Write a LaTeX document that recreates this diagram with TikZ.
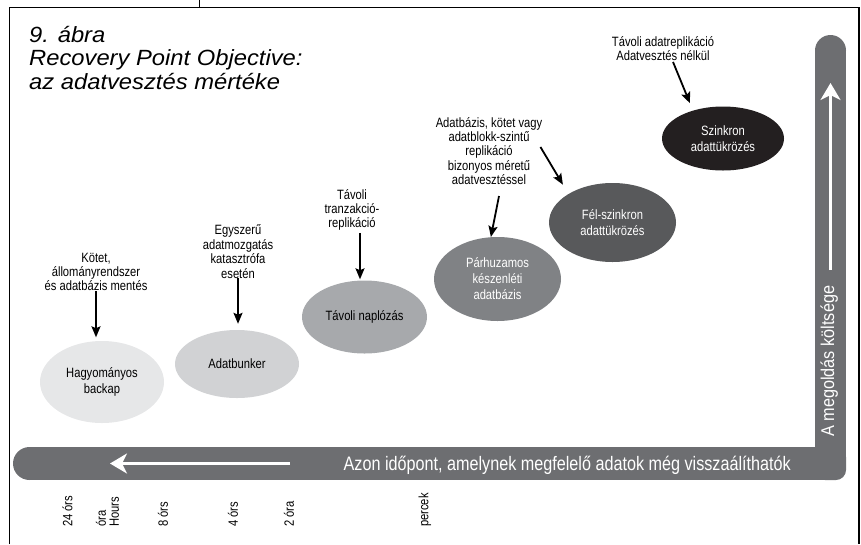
\documentclass[tikz,border=0pt]{standalone}
\usepackage{fontspec}
\setmainfont{Liberation Sans}
\newfontfamily\narrowfont[FakeStretch=0.83]{Liberation Sans}
\newfontfamily\barfont[FakeStretch=0.88]{Liberation Sans}
\newfontfamily\titlefont[FakeStretch=1.08]{Liberation Sans}
\usetikzlibrary{shapes.geometric,arrows.meta}

\definecolor{barGrey}{HTML}{6D6E71}
\definecolor{toneA}{HTML}{E6E7E8}
\definecolor{toneB}{HTML}{D1D2D4}
\definecolor{toneC}{HTML}{A7A9AC}
\definecolor{toneD}{HTML}{808285}
\definecolor{toneE}{HTML}{58595B}
\definecolor{toneF}{HTML}{231F20}

\begin{document}
\begin{tikzpicture}[x=1pt,y=-1pt,
  frame/.style={line width=1.3pt,black},
  bar/.style={fill=barGrey,draw=none},
  oval/.style={ellipse,draw=none,inner sep=0pt,align=center,
    font=\narrowfont\fontsize{13.5}{16}\selectfont},
  note/.style={align=center,inner sep=0pt,
    font=\narrowfont\fontsize{13.5}{14.4}\selectfont},
  link/.style={line width=1.8pt,black,-{Stealth[length=11pt,width=9pt,inset=2pt]}},
  whitearrow/.style={white,line width=3.5pt,-{Stealth[length=17pt,width=20pt,inset=5pt]}},
  tick/.style={rotate=90,anchor=west,align=left,inner sep=0pt,
    font=\narrowfont\fontsize{13.5}{13}\selectfont}]

\useasboundingbox (0,0) rectangle (861,544);

% page frame
\draw[frame] (9.5,544) -- (9.5,7.5) -- (859,7.5) -- (859,544);
\draw[frame] (199.5,0) -- (199.5,7.5);

% title (anchored on the baseline of its last line)
\node[anchor=base west,align=left,inner sep=0pt,
  font=\titlefont\itshape\fontsize{22}{23.6}\selectfont] (title) at (29,89.3)
  {9. ábra\\Recovery Point Objective:\\az adatvesztés mértéke};

% L-shaped axis bar
\fill[bar] (29.5,447) rectangle (830,480);
\fill[bar] (29.5,463.5) circle[radius=16.5];
\fill[bar] (815,50.5) rectangle (846,470);
\fill[bar] (830.5,50.5) circle[radius=15.5];
\fill[bar,rounded corners=10pt] (815,447) rectangle (846,480);

% arrows inside the bar
\coordinate (hstart) at (290,463.5);
\coordinate (hend) at (110,463.5);
\coordinate (vstart) at (830.5,270);
\coordinate (vend) at (830.5,83);
\draw[whitearrow] (hstart) -- (hend);
\draw[whitearrow] (vstart) -- (vend);

% axis captions
\node[anchor=base east,inner sep=0pt,text=white,
  font=\narrowfont\fontsize{19.5}{20}\selectfont] (xcap) at (791,470)
  {Azon időpont, amelynek megfelelő adatok még visszaálíthatók};
\node[rotate=90,anchor=base west,inner sep=0pt,text=white,
  font=\barfont\fontsize{18.5}{20}\selectfont] (ycap) at (834,437)
  {A megoldás költsége};

% time marks
\node[tick] (t24) at (67.5,527) {24 órs};
\node[tick] (thours) at (107.5,527) {óra\\Hours};
\node[tick] (t8) at (163,527) {8 órs};
\node[tick] (t4) at (233,527) {4 órs};
\node[tick] (t2) at (289,527) {2 óra};
\node[tick] (tmin) at (425,527) {percek};

% solutions
\node[oval,fill=toneA,minimum width=124pt,minimum height=82pt] (e1) at (102,382) {Hagyományos\\backap};
\node[oval,fill=toneB,minimum width=124pt,minimum height=68pt] (e2) at (237,364) {Adatbunker};
\node[oval,fill=toneC,minimum width=125pt,minimum height=73pt] (e3) at (364.5,317) {Távoli naplózás};
\node[oval,fill=toneD,minimum width=127pt,minimum height=84pt,text=white] (e4) at (497.5,279) {Párhuzamos\\készenléti\\adatbázis};
\node[oval,fill=toneE,minimum width=127pt,minimum height=79pt,text=white] (e5) at (612.5,222.5) {Fél-szinkron\\adattükrözés};
\node[oval,fill=toneF,minimum width=122pt,minimum height=64pt,text=white] (e6) at (723,138.5) {Szinkron\\adattükrözés};

% descriptions
\node[note] (n1) at (96,272) {Kötet,\\állományrendszer\\és adatbázis mentés};
\node[note] (n2) at (238,251.5) {Egyszerű\\adatmozgatás\\katasztrófa\\esetén};
\node[note] (n3) at (352,210) {Távoli\\tranzakció-\\replikáció};
\node[note] (n4) at (489,151) {Adatbázis, kötet vagy\\adatblokk-szintű\\replikáció\\bizonyos méretű\\adatvesztéssel};
\node[note] (n6) at (663,48.5) {Távoli adatreplikáció\\Adatvesztés nélkül};

% connectors
\draw[link,shorten >=3.5pt] (n1.south) -- (n1.south |- e1.north);
\draw[link,shorten >=6pt] (n2.south) -- (n2.south |- e2.north);
\draw[link,shorten >=1pt] ([xshift=8pt,yshift=-2pt]n3.south) -- ([xshift=8pt]n3.south |- e3.north);
\draw[link] ([xshift=10pt,yshift=-11pt]n4.south) -- (e4.99);
\draw[link,shorten >=10.7pt] ([xshift=-2pt,yshift=4pt]n4.east) -- (e5.147);
\draw[link,shorten >=7.8pt] ([xshift=10pt,yshift=-1pt]n6.south) -- (e6.137);

\end{tikzpicture}
\end{document}
